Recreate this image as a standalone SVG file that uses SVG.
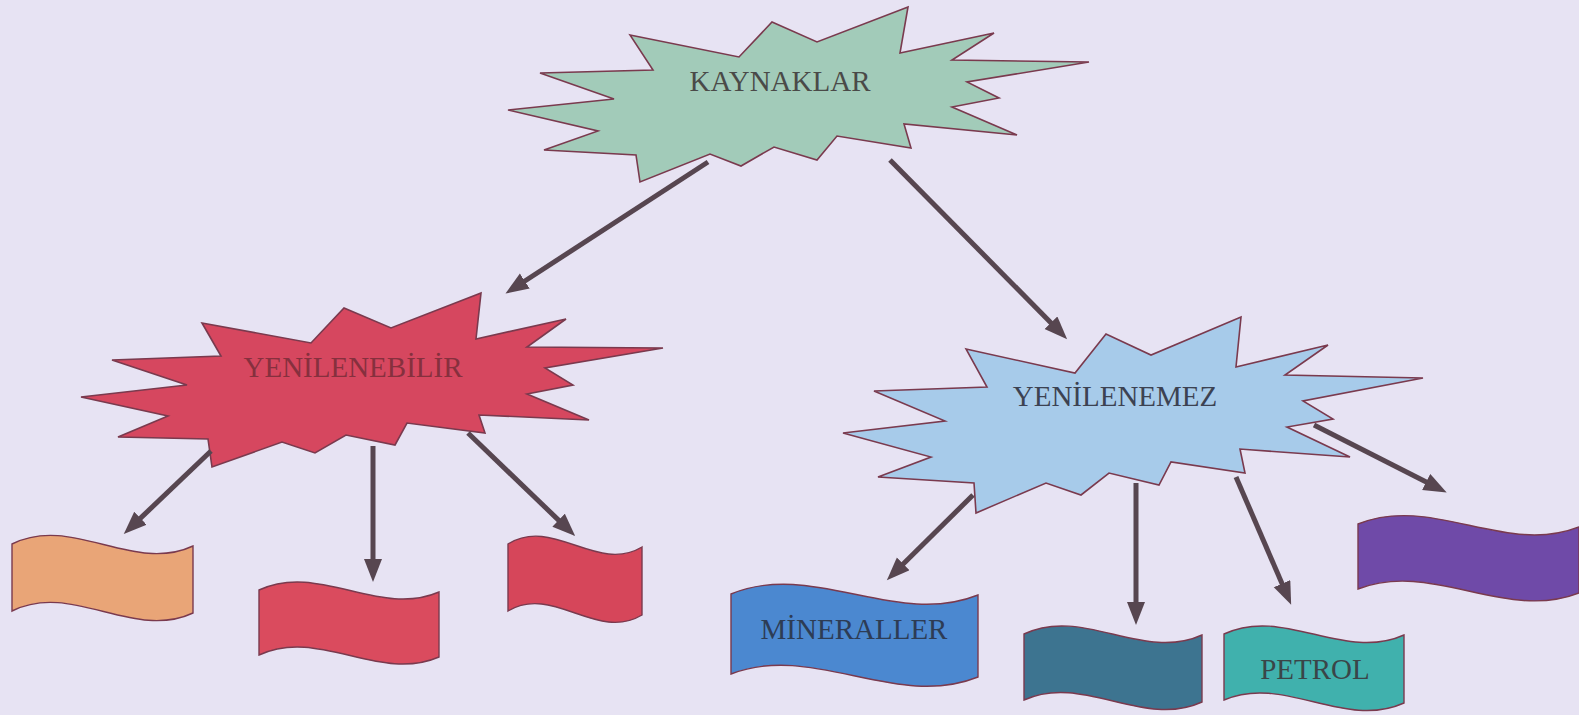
<svg xmlns="http://www.w3.org/2000/svg" width="1579" height="715" viewBox="0 0 1579 715">
<defs>
<style>
.star{stroke:#7a3a4e;stroke-width:1.6;stroke-linejoin:miter}
.flag{stroke:#7a3a4e;stroke-width:1.4}
.lbl{font-family:"Liberation Serif","Times New Roman",serif;font-size:29px;text-anchor:middle}
.conn line{stroke:#574650;stroke-width:5}
</style>
<marker id="ah" markerUnits="userSpaceOnUse" markerWidth="26" markerHeight="20" refX="10" refY="9" orient="auto">
<path d="M0,0 L23,9 L0,18 z" fill="#574650"/>
</marker>
</defs>
<rect width="1579" height="715" fill="#e7e3f3"/>

<g id="kaynaklar">
<polygon class="star" fill="#a2cbb9" points="630,35 739,57 772,22 817,42 908,7 900,53 994,33 952,60 1089,62 967,82 999,98 952,107 1017,135 904,124 911,148 837,136 817,160 774,147 741,166 710,154 640,182 636,155 544,150 598,131 508,110 614,99 540,73 653,70"/>
<text class="lbl" x="780" y="91" fill="#4a4a48">KAYNAKLAR</text>
</g>

<g id="yenilenebilir">
<polygon class="star" fill="#d6475f" points="202,323 311,343 344,308 391,328 481,293 476,339 566,319 527,347 663,348 545,368 573,385 527,394 589,420 479,415 485,433 407,423 395,445 346,435 315,453 282,442 212,467 208,439 118,437 168,416 81,397 187,385 112,360 221,356"/>
<text class="lbl" x="353" y="377" fill="#86303e">YENİLENEBİLİR</text>
</g>

<g id="yenilenemez">
<polygon class="star" fill="#a7cbea" points="966,349 1075,373 1106,334 1151,355 1241,317 1236,367 1328,345 1285,375 1423,378 1303,401 1333,419 1287,427 1350,457 1240,449 1245,473 1171,462 1159,485 1109,473 1081,495 1046,483 976,513 974,483 878,477 931,457 843,433 945,421 874,391 987,387"/>
<text class="lbl" x="1115" y="406" fill="#3c4252">YENİLENEMEZ</text>
</g>

<g id="flag-orange">
<path class="flag" fill="#e9a577" d="M12,544 C72,514 133,574 193,546 L193,613 C133,641 72,581 12,611 Z"/>
</g>
<g id="flag-red-middle">
<path class="flag" fill="#da4b5e" d="M259,590 C319,562 379,618 439,592 L439,657 C379,683 319,627 259,655 Z"/>
</g>
<g id="flag-red-right">
<path class="flag" fill="#d6465a" d="M508,544 C553,516 597,574 642,547 L642,615 C597,642 553,584 508,611 Z"/>
</g>
<g id="flag-mineraller">
<path class="flag" fill="#4b88d0" d="M731,594 C813,560 896,628 978,595 L978,677 C896,710 813,642 731,674 Z"/>
<text class="lbl" x="854" y="639" fill="#2d3c55">MİNERALLER</text>
</g>
<g id="flag-darkteal">
<path class="flag" fill="#3d7490" d="M1024,634 C1083,606 1143,662 1202,635 L1202,702 C1143,729 1083,673 1024,700 Z"/>
</g>
<g id="flag-petrol">
<path class="flag" fill="#40b1ad" d="M1224,634 C1284,606 1344,662 1404,635 L1404,703 C1344,730 1284,674 1224,700 Z"/>
<text class="lbl" x="1315" y="679" fill="#3a4548">PETROL</text>
</g>
<g id="flag-purple">
<path class="flag" fill="#6f4aa8" d="M1358,524 C1432,494 1505,556 1579,527 L1579,593 C1505,622 1432,560 1358,589 Z"/>
</g>

<g id="connectors" class="conn">
<line x1="708" y1="162" x2="516.4" y2="286.5" marker-end="url(#ah)"/>
<line x1="890" y1="160" x2="1058" y2="329.9" marker-end="url(#ah)"/>
<line x1="211" y1="451" x2="133.2" y2="525.1" marker-end="url(#ah)"/>
<line x1="373" y1="446" x2="373" y2="569" marker-end="url(#ah)"/>
<line x1="468" y1="433" x2="565.8" y2="527.1" marker-end="url(#ah)"/>
<line x1="973" y1="495" x2="896.1" y2="571" marker-end="url(#ah)"/>
<line x1="1136" y1="483" x2="1136" y2="612" marker-end="url(#ah)"/>
<line x1="1236" y1="477" x2="1286" y2="592.8" marker-end="url(#ah)"/>
<line x1="1314" y1="425" x2="1435.1" y2="486.5" marker-end="url(#ah)"/>
</g>
</svg>
